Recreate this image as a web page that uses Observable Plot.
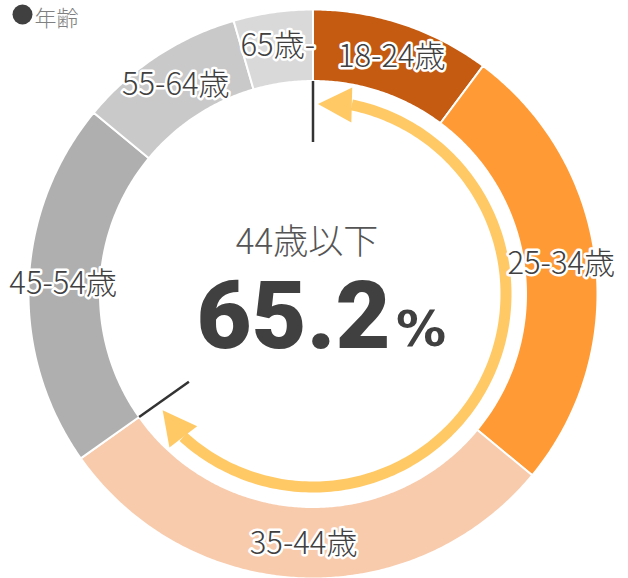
<!DOCTYPE html>
<html><head><meta charset="utf-8">
<script src="https://cdn.jsdelivr.net/npm/d3@7"></script>
<script src="https://cdn.jsdelivr.net/npm/@observablehq/plot@0.6"></script>
<style>body{margin:0;background:#fff}</style>
</head><body><div id="chart"></div>
<script>
// ---- data ----
const ages = ["18-24歳", "25-34歳", "35-44歳", "45-54歳", "55-64歳", "65歳-"];
const shares = [10.2, 25.8, 29.2, 20.8, 9.5, 4.5];
const sliceColors = ["#C55A11", "#FF9A35", "#F8CBAD", "#AFAFAF", "#C9C9C9", "#D9D9D9"];
const legendLabel = "年齢";
const highlightLabel = "44歳以下";
const highlightGroups = 3; // 18-24, 25-34, 35-44

// ---- layout ----
const W = 628, H = 578;
const CX = 312.5, CY = 293.5;
const R_OUT = 284.5, R_IN = 213, R_LAB = 250;
const R_ARC = 193, ARC_W = 11, HEAD_L = 34, HEAD_W = 35;
const R_TICK0 = 213, R_TICK1 = 152;
const FONT_LIGHT = "'Noto Sans CJK JP Light', 'Noto Sans CJK JP DemiLight', 'Noto Sans CJK JP', sans-serif";
const INK = "#404040";
const YELLOW = "#FFC966";

const rad = (deg) => deg * Math.PI / 180;
const P = (r, deg) => ({x: r * Math.sin(rad(deg)), y: r * Math.cos(rad(deg))});

const total = d3.sum(shares);
let acc = 0;
const slices = ages.map((age, i) => {
  const a0 = acc / total * 360; acc += shares[i]; const a1 = acc / total * 360;
  return {age, a0, a1, mid: (a0 + a1) / 2};
});

const ringPts = slices.flatMap((s) => {
  const n = Math.max(2, Math.ceil((s.a1 - s.a0) / 0.5));
  const pts = [];
  for (let k = 0; k <= n; k++) pts.push({age: s.age, ...P(R_OUT, s.a0 + (s.a1 - s.a0) * k / n)});
  for (let k = n; k >= 0; k--) pts.push({age: s.age, ...P(R_IN, s.a0 + (s.a1 - s.a0) * k / n)});
  pts.push(pts[0]);
  return pts;
});

const highlightValue = d3.sum(shares.slice(0, highlightGroups));
const highlightAngle = slices[highlightGroups - 1].a1;

// boundary ticks
const ticks = [0, highlightAngle].map((a) => {
  const p0 = P(R_TICK0, a), p1 = P(R_TICK1, a);
  return {x1: p0.x, y1: p0.y, x2: p1.x, y2: p1.y};
});

// arrow arc (double-headed) between the two boundaries
const tipOff = 1.5;
const headDeg = HEAD_L / R_ARC * 180 / Math.PI;
const arcStart = tipOff + headDeg, arcEnd = highlightAngle - 2.4 - headDeg;
const arcPts = d3.range(0, 201).map((k) => P(R_ARC, arcStart + (arcEnd - arcStart) * k / 200));

function head(tipDeg, baseDeg, id) {
  const t = P(R_ARC - 3, tipDeg), b = P(R_ARC, baseDeg);
  const dx = t.x - b.x, dy = t.y - b.y, len = Math.hypot(dx, dy);
  const nx = -dy / len, ny = dx / len;
  return [
    {id, x: t.x, y: t.y},
    {id, x: b.x + nx * HEAD_W / 2, y: b.y + ny * HEAD_W / 2},
    {id, x: b.x - nx * HEAD_W / 2, y: b.y - ny * HEAD_W / 2},
    {id, x: t.x, y: t.y}
  ];
}
const heads = [
  ...head(tipOff, arcStart, "top"),
  ...head(highlightAngle - 2.4, arcEnd, "bottom")
];

const labels = slices.map((s) => ({age: s.age, ...P(R_LAB, s.mid)}));

const chart = Plot.plot({
  width: W, height: H,
  margin: 0,
  x: {domain: [-CX, W - CX], axis: null},
  y: {domain: [CY - H, CY], axis: null},
  color: {domain: ages, range: sliceColors},
  style: {background: "white"},
  marks: [
    Plot.line(ringPts, {x: "x", y: "y", z: "age", fill: "age", stroke: "white", strokeWidth: 2, curve: "linear"}),
    Plot.line(arcPts, {x: "x", y: "y", stroke: YELLOW, strokeWidth: ARC_W, strokeLinecap: "butt"}),
    Plot.line(heads, {x: "x", y: "y", z: "id", fill: YELLOW, stroke: "none"}),
    Plot.link(ticks, {x1: "x1", y1: "y1", x2: "x2", y2: "y2", stroke: "#333", strokeWidth: 2.5}),
    Plot.text(labels, {x: "x", y: "y", text: "age", fontSize: 31, fontFamily: FONT_LIGHT, fill: INK, stroke: "white", strokeWidth: 5, strokeLinejoin: "round"}),
    Plot.text([highlightLabel], {x: () => 0, y: () => 0, text: (d) => d, dx: -6, dy: -40.5, lineAnchor: "bottom", fontSize: 35, fontWeight: 300, fontFamily: FONT_LIGHT, fill: "#555"}),
    Plot.text([highlightValue], {x: () => 0, y: () => 0, text: (d) => d.toFixed(1), dx: 77.5, dy: 53.5, textAnchor: "end", lineAnchor: "bottom", fontSize: 95, fontWeight: 900, fontFamily: "Roboto, 'Noto Sans', sans-serif", fill: INK}),
    Plot.text(["%"], {x: () => 0, y: () => 0, text: (d) => d, dx: 83, dy: 52, textAnchor: "start", lineAnchor: "bottom", fontSize: 50, fontWeight: 700, fontFamily: "'DejaVu Sans', sans-serif", fill: INK}),
    Plot.dot([legendLabel], {frameAnchor: "top-left", dx: 22, dy: 14, r: 10, fill: INK, stroke: "none"}),
    Plot.text([legendLabel], {frameAnchor: "top-left", dx: 34, dy: 25.5, lineAnchor: "bottom", textAnchor: "start", fontSize: 22, fontFamily: FONT_LIGHT, fill: "#808080"})
  ]
});
document.getElementById("chart").append(chart);
</script>
</body></html>
